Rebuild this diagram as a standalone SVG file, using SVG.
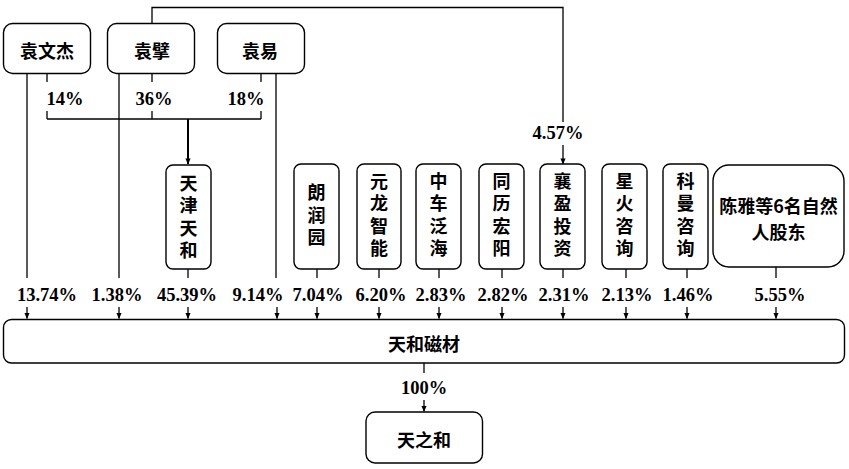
<svg xmlns="http://www.w3.org/2000/svg" width="849" height="469" viewBox="0 0 849 469">
<defs>
<marker id="arr" viewBox="0 0 8 8" refX="7.5" refY="4" markerWidth="6" markerHeight="6" orient="auto" markerUnits="userSpaceOnUse">
<path d="M0,0.5 L8,4 L0,7.5 Z" fill="#000"/>
</marker>
<style>
.box{fill:#fff;stroke:#000;stroke-width:1.4}
.ln{fill:none;stroke:#000;stroke-width:1.3}
.thk{fill:none;stroke:#000;stroke-width:2}
.cn{font-family:"Noto Sans CJK SC","Noto Sans CJK TC",sans-serif;font-weight:700;font-size:18px;fill:#000;text-anchor:middle;dominant-baseline:central}
.vt{font-family:"Noto Sans CJK SC","Noto Sans CJK TC",sans-serif;font-weight:700;font-size:18px;fill:#000;text-anchor:middle;writing-mode:vertical-rl;letter-spacing:4.5px}
.pc{font-family:"Liberation Serif","Times New Roman",serif;font-weight:700;font-size:18.5px;fill:#000;text-anchor:middle}
</style>
</defs>
<rect width="849" height="469" fill="#fff"/>

<g id="connectors">
<path class="ln" d="M152,23 V7.5 H563 V122"/>
<path class="ln" d="M563,145 V164" marker-end="url(#arr)"/>
<path class="ln" d="M27,74 V278"/>
<path class="ln" d="M119,74 V278"/>
<path class="ln" d="M276,74 V278"/>
<path class="ln" d="M47,74 V82 M47,111 V119"/>
<path class="ln" d="M152,74 V82 M152,111 V119"/>
<path class="ln" d="M261,74 V82 M261,111 V119"/>
<path class="ln" d="M47,119 H261"/>
<path class="thk" d="M188,119 V164" marker-end="url(#arr)"/>
<path class="ln" d="M188,269 V278"/>
<path class="ln" d="M317,269 V278"/>
<path class="ln" d="M379,269 V278"/>
<path class="ln" d="M439,269 V278"/>
<path class="ln" d="M502,269 V278"/>
<path class="ln" d="M563,269 V278"/>
<path class="ln" d="M626,269 V278"/>
<path class="ln" d="M687,269 V278"/>
<path class="ln" d="M776,267 V278"/>
<path class="ln" d="M27,307 V318.5" marker-end="url(#arr)"/>
<path class="ln" d="M119,307 V318.5" marker-end="url(#arr)"/>
<path class="ln" d="M188,307 V318.5" marker-end="url(#arr)"/>
<path class="ln" d="M277,307 V318.5" marker-end="url(#arr)"/>
<path class="ln" d="M317,307 V318.5" marker-end="url(#arr)"/>
<path class="ln" d="M379,307 V318.5" marker-end="url(#arr)"/>
<path class="ln" d="M439,307 V318.5" marker-end="url(#arr)"/>
<path class="ln" d="M502,307 V318.5" marker-end="url(#arr)"/>
<path class="ln" d="M563,307 V318.5" marker-end="url(#arr)"/>
<path class="ln" d="M626,307 V318.5" marker-end="url(#arr)"/>
<path class="ln" d="M687,307 V318.5" marker-end="url(#arr)"/>
<path class="ln" d="M776,307 V318.5" marker-end="url(#arr)"/>
<path class="ln" d="M424,363 V373"/>
<path class="ln" d="M424,400 V411.5" marker-end="url(#arr)"/>

<text class="pc" x="65" y="105">14%</text>
<text class="pc" x="154" y="105">36%</text>
<text class="pc" x="246" y="105">18%</text>
<text class="pc" x="558" y="139">4.57%</text>
<text class="pc" x="47" y="301">13.74%</text>
<text class="pc" x="117" y="301">1.38%</text>
<text class="pc" x="187" y="301">45.39%</text>
<text class="pc" x="258" y="301">9.14%</text>
<text class="pc" x="318" y="301">7.04%</text>
<text class="pc" x="381" y="301">6.20%</text>
<text class="pc" x="441" y="301">2.83%</text>
<text class="pc" x="503" y="301">2.82%</text>
<text class="pc" x="564" y="301">2.31%</text>
<text class="pc" x="627" y="301">2.13%</text>
<text class="pc" x="688" y="301">1.46%</text>
<text class="pc" x="780" y="301">5.55%</text>
<text class="pc" x="424" y="394">100%</text>
</g>

<g id="yuanwenjie">
<rect class="box" x="3.5" y="23.5" width="87" height="50" rx="9"/>
<text class="cn" x="47" y="50">袁文杰</text>
</g>
<g id="yuanbi">
<rect class="box" x="107.5" y="23.5" width="87" height="50" rx="9"/>
<text class="cn" x="152" y="50">袁擘</text>
</g>
<g id="yuanyi">
<rect class="box" x="217.5" y="23.5" width="87" height="50" rx="9"/>
<text class="cn" x="260" y="50">袁易</text>
</g>

<g id="tianjintianhe">
<rect class="box" x="166" y="165" width="45" height="104" rx="7"/>
<text class="vt" x="188.5" y="219">天津天和</text>
</g>
<g id="langrunyuan">
<rect class="box" x="294" y="164" width="45" height="105" rx="7"/>
<text class="vt" x="316.5" y="217">朗润园</text>
</g>
<g id="yuanlong">
<rect class="box" x="357" y="164" width="44" height="105" rx="7"/>
<text class="vt" x="379" y="217">元龙智能</text>
</g>
<g id="zhongche">
<rect class="box" x="416" y="164" width="45" height="105" rx="7"/>
<text class="vt" x="438.5" y="217">中车泛海</text>
</g>
<g id="tongli">
<rect class="box" x="479" y="164" width="45" height="105" rx="7"/>
<text class="vt" x="501.5" y="217">同历宏阳</text>
</g>
<g id="xiangying">
<rect class="box" x="540" y="164" width="45" height="105" rx="7"/>
<text class="vt" x="562.5" y="217">襄盈投资</text>
</g>
<g id="xinghuo">
<rect class="box" x="602" y="164" width="45" height="105" rx="7"/>
<text class="vt" x="624.5" y="217">星火咨询</text>
</g>
<g id="keman">
<rect class="box" x="663" y="164" width="45" height="105" rx="7"/>
<text class="vt" x="685.5" y="217">科曼咨询</text>
</g>
<g id="chenya">
<rect class="box" x="713" y="165" width="131" height="102" rx="16"/>
<text class="cn" font-size="17"><tspan x="778.5" y="205">陈雅等6名自然</tspan><tspan x="778.5" y="230.5">人股东</tspan></text>
</g>

<g id="tianhecicai">
<rect class="box" x="3.5" y="319.5" width="841" height="43.5" rx="8"/>
<text class="cn" x="424" y="343" font-size="17">天和磁材</text>
</g>
<g id="tianzhihe">
<rect class="box" x="366" y="412" width="116.5" height="51" rx="9"/>
<text class="cn" x="424" y="439" font-size="17">天之和</text>
</g>
</svg>
